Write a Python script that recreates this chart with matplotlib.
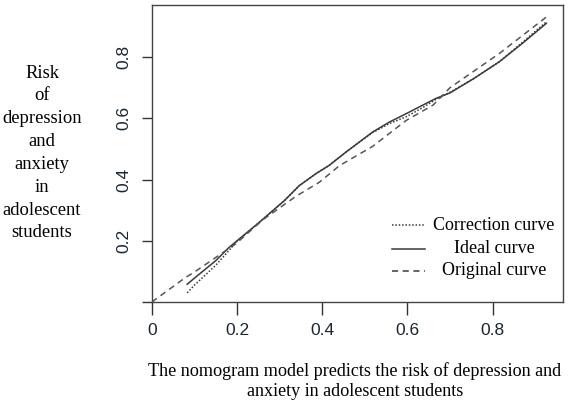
import matplotlib
matplotlib.use('Agg')
import matplotlib.pyplot as plt

# calibration curves
orig_x = [0, 0.079, 0.1, 0.197, 0.26, 0.338, 0.393, 0.44, 0.518, 0.597, 0.66, 0.70, 0.816, 0.93]
orig_y = [0, 0.08, 0.098, 0.19, 0.268, 0.345, 0.391, 0.445, 0.508, 0.593, 0.643, 0.70, 0.812, 0.935]

ideal_x = [0.083, 0.10, 0.15, 0.181, 0.2, 0.252, 0.311, 0.346, 0.385, 0.416, 0.456, 0.518,
           0.558, 0.597, 0.636, 0.667, 0.70, 0.756, 0.816, 0.87, 0.926]
ideal_y = [0.058, 0.078, 0.135, 0.178, 0.2, 0.26, 0.331, 0.38, 0.419, 0.446, 0.49, 0.555,
           0.588, 0.615, 0.643, 0.665, 0.683, 0.73, 0.785, 0.845, 0.91]

corr_x = [0.083, 0.10, 0.15, 0.2, 0.252, 0.311, 0.346, 0.385, 0.416, 0.456, 0.518,
          0.558, 0.597, 0.636, 0.667, 0.70, 0.756, 0.816, 0.87, 0.926]
corr_y = [0.03, 0.055, 0.12, 0.198, 0.26, 0.331, 0.38, 0.419, 0.446, 0.49, 0.553,
          0.583, 0.605, 0.635, 0.662, 0.685, 0.73, 0.785, 0.848, 0.915]

x_ticks = [0, 0.2, 0.4, 0.6, 0.8]
x_labels = ['0', '0.2', '0.4', '0.6', '0.8']
y_ticks = [0, 0.2, 0.4, 0.6, 0.8]
y_labels = ['', '0.2', '0.4', '0.6', '0.8']

legend_names = ['Correction curve', 'Ideal curve', 'Original curve']

serif = 'Liberation Serif'
sans = 'Liberation Sans'
tick_color = '#1c2633'
line_color = '#3a3a3a'

fig = plt.figure(figsize=(5.73, 4.05), dpi=100)
ax = fig.add_axes([0.265, 0.2543, 0.7175, 0.7334])

ax.plot(corr_x, corr_y, color=line_color, lw=1.1, ls=(0, (1, 1.2)))
ax.plot(ideal_x, ideal_y, color=line_color, lw=1.1, ls='-')
ax.plot(orig_x, orig_y, color='#555555', lw=1.1, ls=(0, (4, 3)))

ax.set_xlim(0, 0.965)
ax.set_ylim(0, 0.97)
ax.set_xticks(x_ticks)
ax.set_xticklabels(x_labels, fontfamily=sans, fontsize=12.5, color=tick_color)
ax.set_yticks(y_ticks)
ax.set_yticklabels(y_labels, fontfamily=sans, fontsize=12.5, color=tick_color,
                   rotation=90, va='center')
ax.tick_params(axis='x', length=9, width=1, pad=6, color='#333333')
ax.tick_params(axis='y', length=7, width=1, pad=8, color='#333333')
for s in ax.spines.values():
    s.set_color('#444444')
    s.set_linewidth(1.0)

# legend drawn by hand so the labels are centred like the R output
styles = [(0, (1, 1.2)), '-', (0, (4, 3))]
rows = [0.258, 0.18, 0.106]
for name, st, yy in zip(legend_names, styles, rows):
    ax.plot([0.584, 0.664], [yy, yy], transform=ax.transAxes, color=line_color,
            lw=1.1, ls=st)
    ax.text(0.832, yy, name, transform=ax.transAxes, ha='center', va='center',
            fontfamily=serif, fontsize=13)

fig.text(42 / 573, 1 - 153 / 405,
         'Risk\nof\ndepression\nand\nanxiety\nin\nadolescent\nstudents',
         ha='center', va='center', multialignment='center',
         fontfamily=serif, fontsize=13.4, linespacing=1.45)
fig.text(355 / 573, 1 - 381 / 405,
         'The nomogram model predicts the risk of depression and\n'
         'anxiety in adolescent students',
         ha='center', va='center', multialignment='center',
         fontfamily=serif, fontsize=13.1, linespacing=1.25)

plt.savefig('out.png', dpi=100)
